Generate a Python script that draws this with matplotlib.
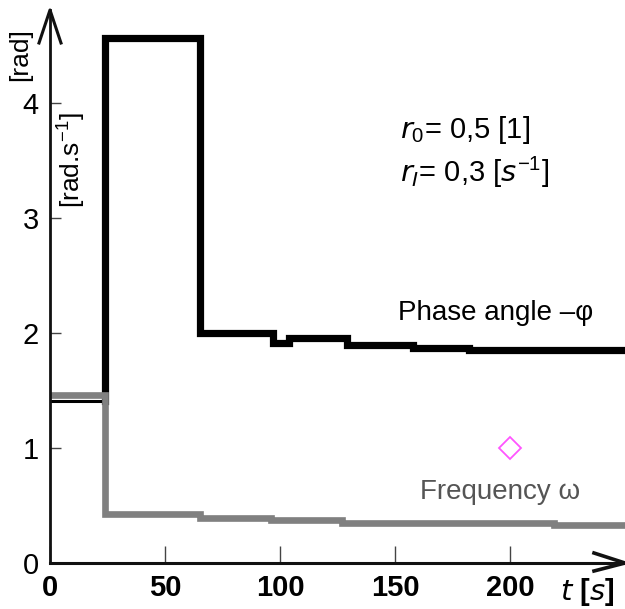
import matplotlib
matplotlib.use("Agg")
import matplotlib.pyplot as plt
from matplotlib import font_manager

names = {f.name for f in font_manager.fontManager.ttflist}
FAM = "Liberation Sans Narrow" if "Liberation Sans Narrow" in names else "Liberation Sans"
plt.rcParams['font.family'] = [FAM, 'DejaVu Sans']

# Data
t_phase = [24, 65, 97, 104, 129, 158, 182, 250]
phase = [4.57, 2.00, 1.91, 1.96, 1.90, 1.87, 1.85, 1.85]
t_phase_start = [0, 24]
phase_start = [1.41, 1.41]
t_freq = [0, 24, 65, 96, 127, 219, 250]
freq = [1.46, 0.43, 0.39, 0.37, 0.35, 0.33, 0.33]
marker_t, marker_v = [200], [1.0]
xticks = [0, 50, 100, 150, 200]
yticks = [0, 1, 2, 3, 4]

fig = plt.figure(figsize=(6.25, 6.09), dpi=100)
ax = fig.add_axes([50/625, 46/609, 575/625, 553/609])
ax.set_xlim(0, 250)
ax.set_ylim(0, 4.81)
for s in ax.spines.values():
    s.set_visible(False)

ax.plot([t_phase[0]] + t_phase, [phase_start[-1]] + phase, drawstyle='steps-post',
        color='black', lw=5.2, solid_joinstyle='miter', zorder=3)
ax.plot(t_phase_start, phase_start, color='black', lw=2.2, zorder=3)
ax.plot(t_freq, freq, drawstyle='steps-post', color='#808080', lw=4.8,
        solid_joinstyle='miter', zorder=4)
ax.plot(marker_t, marker_v, marker='D', ms=11, mfc='none', mec='#ff55ff', mew=1.3,
        ls='none', zorder=5)

# axes with arrows
tr = ax.transAxes
ax.plot([0, 0], [0, 1], color='#111111', lw=2, transform=tr, clip_on=False, zorder=6)
ax.plot([0, 1], [0, 0], color='#111111', lw=2.2, transform=tr, clip_on=False, zorder=6)
ax.plot([-11/575, 0, 11/575], [1 - 33/553, 1, 1 - 33/553], color='#111111', lw=2.2,
        transform=tr, clip_on=False, zorder=6)
ax.plot([1 - 31/575, 1, 1 - 31/575], [10/553, 0, -8/553], color='#111111', lw=2.6,
        transform=tr, clip_on=False, zorder=6)

ax.set_xticks(xticks)
ax.set_yticks(yticks)
ax.tick_params(axis='x', direction='in', length=12, width=1, color='#444444',
               labelsize=21, pad=8)
ax.tick_params(axis='y', direction='in', length=8, width=1, color='#444444',
               labelsize=21, pad=8)
for lab in ax.get_xticklabels():
    lab.set_fontweight('bold')

fig.text(20/625, 1 - 55/609, '[rad]', rotation=90, fontsize=19, ha='center', va='center')
fig.text(71/625, 1 - 160/609, r'[rad.s$^{\mathregular{-1}}$]', rotation=90, fontsize=19,
         ha='center', va='center')
fig.text(400/625, 1 - 130/609, r'$\mathit{r}_{\mathregular{0}}$= 0,5 [1]', fontsize=21,
         ha='left', va='center')
fig.text(400/625, 1 - 172/609, r'$\mathit{r}_{\mathit{I}}$= 0,3 [$\mathit{s}^{\mathregular{-1}}$]',
         fontsize=21, ha='left', va='center')
fig.text(398/625, 1 - 313/609, 'Phase angle \u2013\u03c6', fontsize=20, ha='left', va='center',
         color='black')
fig.text(420/625, 1 - 492/609, 'Frequency \u03c9', fontsize=20, ha='left', va='center',
         color='#555555')
fig.text(560/625, 1 - 592/609, r'$\mathit{t}$ [$\mathit{s}$]', fontsize=21, ha='left',
         va='center', fontweight='bold')

fig.savefig('out.png', dpi=100)
